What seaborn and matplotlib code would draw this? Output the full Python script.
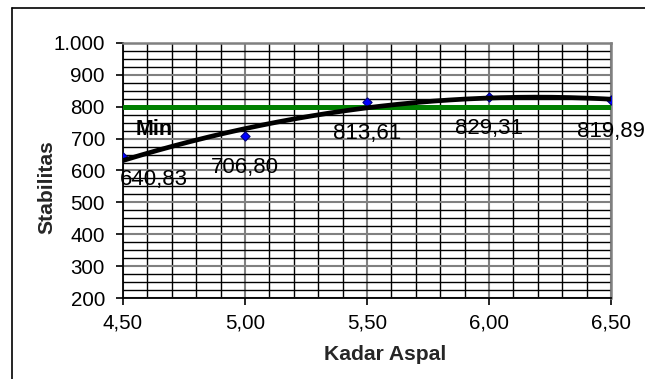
import numpy as np
import pandas as pd
import seaborn as sns
import matplotlib
matplotlib.use("Agg")
import matplotlib.pyplot as plt
from matplotlib.lines import Line2D
from matplotlib.ticker import MultipleLocator, FuncFormatter

# ---- data ----
kadar_aspal = [4.50, 5.00, 5.50, 6.00, 6.50]
stabilitas = [640.83, 706.80, 813.61, 829.31, 819.89]
point_labels = ["640,83", "706,80", "813,61", "829,31", "819,89"]
min_value = 800
min_label = "Min"
x_label = "Kadar Aspal"
y_label = "Stabilitas"

sns.set_theme(style="white")
plt.rcParams['font.family'] = ['Liberation Sans', 'DejaVu Sans']

fig = plt.figure(figsize=(6.45, 3.79), dpi=100)
fig.patch.set_facecolor("white")
ax = fig.add_axes([123/645, 1 - 298/379, 488/645, 255/379])
ax.set_facecolor("white")

ax.set_xlim(4.5, 6.5)
ax.set_ylim(200, 1000)
ax.xaxis.set_major_locator(MultipleLocator(0.5))
ax.xaxis.set_minor_locator(MultipleLocator(0.1))
ax.yaxis.set_major_locator(MultipleLocator(100))
ax.yaxis.set_minor_locator(MultipleLocator(25))
ax.grid(True, which="minor", color="black", linewidth=1.0, zorder=0)
ax.grid(True, which="major", color="#808080", linewidth=1.5, zorder=0)
ax.set_axisbelow(True)

ax.xaxis.set_major_formatter(FuncFormatter(lambda v, p: f"{v:.2f}".replace(".", ",")))
ax.yaxis.set_major_formatter(FuncFormatter(lambda v, p: f"{int(round(v)):,}".replace(",", ".")))
ax.tick_params(axis="both", which="major", length=5, width=1.2, color="black",
               labelsize=14.8, labelcolor="black", bottom=True, left=True)
ax.tick_params(axis="x", which="major", pad=6)
ax.tick_params(axis="y", which="major", pad=8)
ax.tick_params(axis="both", which="minor", length=0)

for s in ["left", "bottom"]:
    ax.spines[s].set_color("black")
    ax.spines[s].set_linewidth(1.3)
for s in ["top", "right"]:
    ax.spines[s].set_color("#808080")
    ax.spines[s].set_linewidth(1.8)

# min line
ax.axhline(min_value, color="#008000", linewidth=3.6, zorder=3)

# data points
df = pd.DataFrame({"x": kadar_aspal, "y": stabilitas})
sns.scatterplot(data=df, x="x", y="y", marker="D", s=22, color="#0000FF",
                edgecolor="#000080", linewidth=0.8, zorder=4, ax=ax, legend=False)

# polynomial (order 2) trendline fitted from the data
coef = np.polyfit(kadar_aspal, stabilitas, 2)
xs = np.linspace(min(kadar_aspal), max(kadar_aspal), 200)
trend = pd.DataFrame({"x": xs, "y": np.polyval(coef, xs)})
sns.lineplot(data=trend, x="x", y="y", color="black", linewidth=3.4, zorder=5,
             ax=ax, legend=False)

ax.set_xlabel("")
ax.set_ylabel("")

# data labels
for i, (xv, yv, lab) in enumerate(zip(kadar_aspal, stabilitas, point_labels)):
    if i == 0:
        ax.annotate(lab, (xv, yv), xytext=(-3, -28), textcoords="offset pixels",
                    ha="left", va="baseline", fontsize=16, color="black", zorder=6)
    else:
        ax.annotate(lab, (xv, yv), xytext=(0, -37), textcoords="offset pixels",
                    ha="center", va="baseline", fontsize=16, color="black", zorder=6,
                    annotation_clip=False)

ax.text(4.55, 711, min_label, fontsize=15.5, fontweight="bold", ha="left",
        va="baseline", color="black", zorder=6)

# axis titles
fig.text(385.5/645, 1 - 360/379, x_label, fontsize=15.2, fontweight="bold",
         ha="center", va="baseline")
fig.text(47/645, 1 - 187/379, y_label, fontsize=15.2, fontweight="bold",
         ha="center", va="center", rotation=90)

# chart-area border (top and left visible)
fig.add_artist(Line2D([12/645, 1], [1 - 8/379, 1 - 8/379], transform=fig.transFigure,
                      color="black", linewidth=1.2))
fig.add_artist(Line2D([12/645, 12/645], [0, 1 - 8/379], transform=fig.transFigure,
                      color="black", linewidth=1.2))

fig.savefig("out.png", dpi=100, facecolor="white")
